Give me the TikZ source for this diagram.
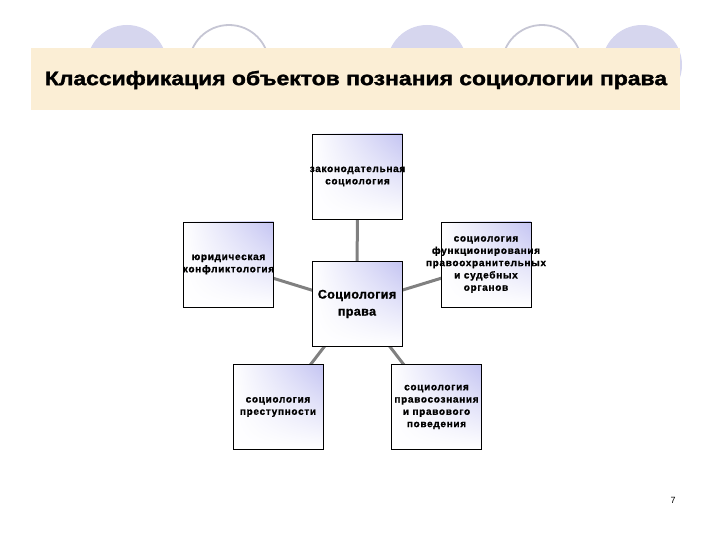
\documentclass[tikz,border=0pt]{standalone}
\usepackage{fontspec}
\setmainfont{Liberation Sans}
\newfontfamily\boxfont[LetterSpace=7,FakeBold=1.2]{Liberation Sans Bold}
\newfontfamily\bigboxfont[LetterSpace=3,FakeBold=1.2]{Liberation Sans Bold}
\newfontfamily\titlefont[FakeBold=1.5]{Liberation Sans Bold}
\usetikzlibrary{backgrounds,shadings}
\definecolor{banner}{HTML}{FBEED5}
\definecolor{lav}{HTML}{D6D6EE}
\definecolor{ring}{HTML}{C6C6D4}
\definecolor{shadelav}{HTML}{C4C4F2}
\definecolor{conn}{HTML}{808080}
\tikzset{
  box/.style={draw=black, line width=0.9pt, rectangle, inner sep=0pt,
    minimum width=90pt, minimum height=85pt,
    upper right=shadelav, upper left=white, lower left=white, lower right=white},
  txt/.style={align=center, inner sep=0pt, font=\boxfont\fontsize{10}{12.3}\selectfont},
  bigtxt/.style={align=center, inner sep=0pt, font=\bigboxfont\fontsize{12.5}{17}\selectfont},
  conline/.style={draw=conn, line width=3pt},
  filledcirc/.style={fill=lav, draw=none},
  ringcirc/.style={draw=ring, line width=1.8pt, fill=white},
}
\begin{document}
\begin{tikzpicture}[x=1pt,y=-1pt]
\useasboundingbox (0,0) rectangle (720,540);
% decorative circles
\path[filledcirc] (127,65) circle (40);
\path[ringcirc] (229,65) circle (40);
\path[filledcirc] (427,65) circle (40);
\path[ringcirc] (542,65) circle (40);
\path[filledcirc] (642,65) circle (40);
% banner
\fill[banner] (31,48) rectangle (680,110);
\node[font=\titlefont\fontsize{19.5}{22}\selectfont, inner sep=0pt] (title) at (356,80)
  {\scalebox{1.175}[1]{Классификация объектов познания социологии права}};
% boxes
\node[box] (t) at (357.5,176.5) {};
\node[box] (c) at (357,304) {};
\node[box] (l) at (228.5,264.5) {};
\node[box] (r) at (486,264.5) {};
\node[box] (bl) at (278,407) {};
\node[box] (br) at (436.5,407) {};
\node[txt] (tt) at (t) {законодательная\\социология};
\node[bigtxt] (ct) at (c) {Социология\\права};
\node[txt] (lt) at (l) {юридическая\\конфликтология};
\node[txt] (rt) at (r) {социология\\функционирования\\правоохранительных\\и судебных\\органов};
\node[txt] (blt) at (bl) {социология\\преступности};
\node[txt] (brt) at (br) {социология\\правосознания\\и правового\\поведения};
\begin{scope}[on background layer]
\draw[conline] (c.center) -- (t.center);
\draw[conline] (c.center) -- (l.center);
\draw[conline] (c.center) -- (r.center);
\draw[conline] (c.center) -- (bl.center);
\draw[conline] (c.center) -- (br.center);
\end{scope}
\node[font=\fontsize{9}{10}\selectfont, inner sep=0pt] (pg) at (673,500) {7};
\end{tikzpicture}
\end{document}
